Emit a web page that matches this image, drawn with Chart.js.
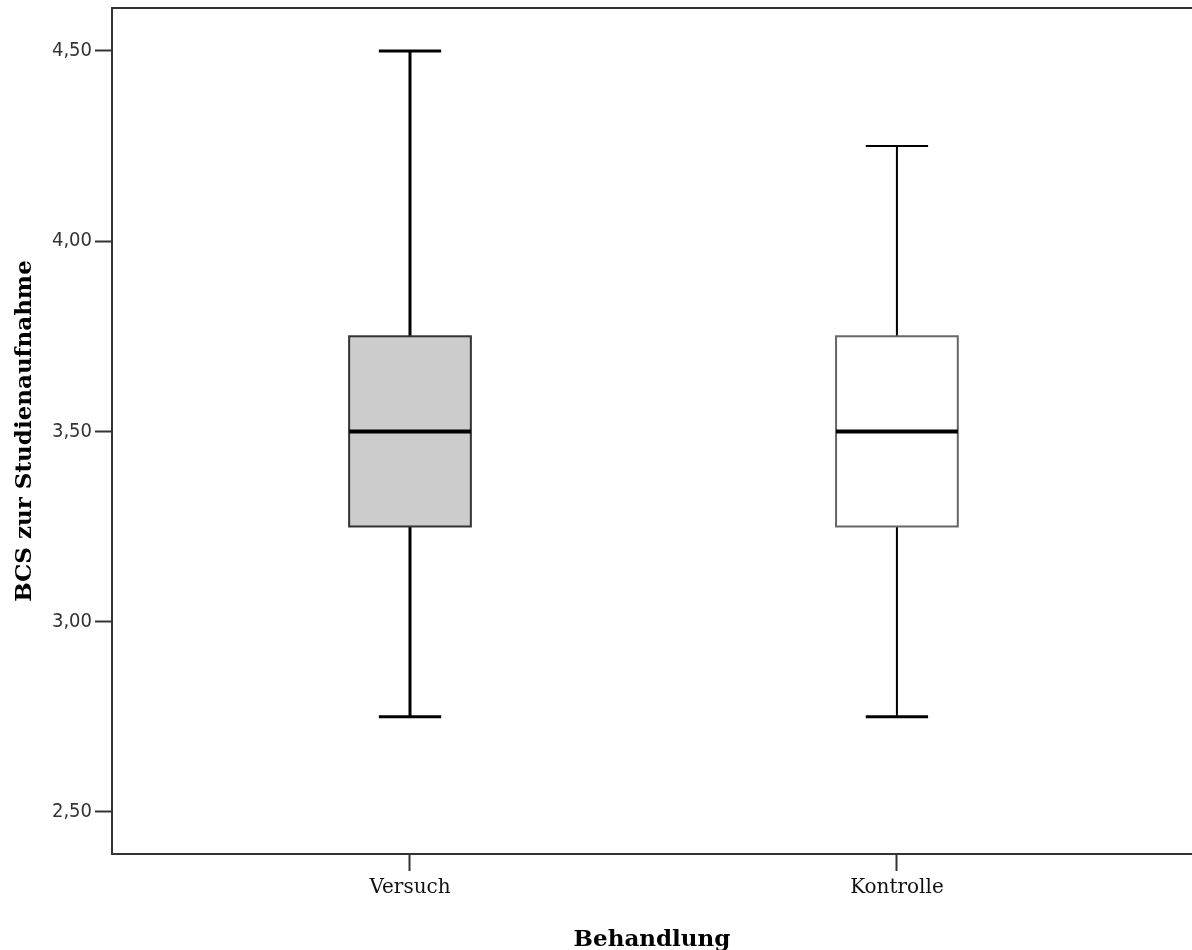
<!DOCTYPE html>
<html>
<head>
<meta charset="utf-8">
<title>BCS zur Studienaufnahme</title>
<script src="https://cdn.jsdelivr.net/npm/chart.js@4/dist/chart.umd.min.js"></script>
<style>
  html, body { margin: 0; padding: 0; background: #fff; }
  #wrap { width: 1192px; height: 950px; }
</style>
</head>
<body>
<div id="wrap"><canvas id="box-chart" width="1192" height="950"></canvas></div>
<script>
// Boxplot-Werte
const categories = ['Versuch', 'Kontrolle'];
const minValues = [2.75, 2.75];
const q1Values = [3.25, 3.25];
const medianValues = [3.50, 3.50];
const q3Values = [3.75, 3.75];
const maxValues = [4.50, 4.25];
const yTicks = [2.5, 3.0, 3.5, 4.0, 4.5];

// Aussehen je Gruppe
const boxFill = ['#cccccc', '#ffffff'];
const boxBorder = ['#333333', '#666666'];
const whiskerWidth = [3, 2];
const topCapWidth = [3, 2];

const serif = "'DejaVu Serif', 'Liberation Serif', serif";
const sans = "'DejaVu Sans Condensed', 'DejaVu Sans', sans-serif";

// Zeichnet die Boxen über die Skalen von Chart.js
const boxplotPlugin = {
    id: 'boxplot',
    afterDatasetsDraw(chart) {
        const ctx = chart.ctx;
        const xs = chart.scales.x;
        const ys = chart.scales.y;
        const area = chart.chartArea;

        // oberer Rahmen
        ctx.save();
        ctx.strokeStyle = '#333';
        ctx.lineWidth = 2;
        ctx.beginPath();
        ctx.moveTo(area.left - 1, area.top);
        ctx.lineTo(area.right, area.top);
        ctx.stroke();

        categories.forEach((cat, i) => {
            const cx = xs.getPixelForValue(i);
            const bl = xs.getPixelForValue(i - 0.125);
            const br = xs.getPixelForValue(i + 0.125);
            const cl = xs.getPixelForValue(i - 0.064);
            const cr = xs.getPixelForValue(i + 0.064);
            const yMin = ys.getPixelForValue(minValues[i]);
            const yQ1 = ys.getPixelForValue(q1Values[i]);
            const yMed = ys.getPixelForValue(medianValues[i]);
            const yQ3 = ys.getPixelForValue(q3Values[i]);
            const yMax = ys.getPixelForValue(maxValues[i]);

            // Whisker
            ctx.strokeStyle = '#000';
            ctx.lineWidth = whiskerWidth[i];
            ctx.beginPath();
            ctx.moveTo(cx, yMax);
            ctx.lineTo(cx, yQ3);
            ctx.moveTo(cx, yQ1);
            ctx.lineTo(cx, yMin);
            ctx.stroke();

            // Querstriche
            ctx.lineWidth = topCapWidth[i];
            ctx.beginPath();
            ctx.moveTo(cl, yMax);
            ctx.lineTo(cr, yMax);
            ctx.stroke();
            ctx.lineWidth = 3;
            ctx.beginPath();
            ctx.moveTo(cl, yMin);
            ctx.lineTo(cr, yMin);
            ctx.stroke();

            // Box
            ctx.fillStyle = boxFill[i];
            ctx.fillRect(bl, yQ3, br - bl, yQ1 - yQ3);
            ctx.strokeStyle = boxBorder[i];
            ctx.lineWidth = 2;
            ctx.strokeRect(bl, yQ3, br - bl, yQ1 - yQ3);

            // Median
            ctx.strokeStyle = '#000';
            ctx.lineWidth = 4;
            ctx.beginPath();
            ctx.moveTo(bl, yMed);
            ctx.lineTo(br, yMed);
            ctx.stroke();
        });
        ctx.restore();
    }
};

const chart = new Chart(document.getElementById('box-chart'), {
    type: 'scatter',
    data: {
        datasets: [{
            data: medianValues.map((v, i) => ({ x: i, y: v })),
            pointRadius: 0,
            showLine: false
        }]
    },
    options: {
        responsive: false,
        animation: false,
        layout: { padding: { top: 8, right: 0, left: 0, bottom: 0 } },
        plugins: {
            legend: { display: false },
            tooltip: { enabled: false }
        },
        scales: {
            x: {
                type: 'linear',
                min: -0.612,
                max: 1.606,
                afterBuildTicks: (scale) => {
                    scale.ticks = categories.map((c, i) => ({ value: i }));
                },
                afterFit: (scale) => {
                    scale.height = 96;
                    scale.paddingLeft = 0;
                    scale.paddingRight = 0;
                },
                border: { color: '#333', width: 2 },
                grid: {
                    drawOnChartArea: false,
                    tickLength: 17,
                    tickColor: '#333',
                    tickWidth: 2
                },
                ticks: {
                    color: '#111',
                    padding: 5,
                    font: { family: serif, size: 20 },
                    callback: (value) => categories[value]
                },
                title: {
                    display: true,
                    text: 'Behandlung',
                    color: '#000',
                    padding: { top: 0, bottom: -4 },
                    font: { family: serif, size: 23, weight: 'bold' }
                }
            },
            y: {
                min: 2.389,
                max: 4.613,
                afterBuildTicks: (scale) => {
                    scale.ticks = yTicks.map(v => ({ value: v }));
                },
                afterFit: (scale) => {
                    scale.width = 112;
                    scale.paddingTop = 0;
                    scale.paddingBottom = 0;
                },
                border: { color: '#333', width: 2 },
                grid: {
                    drawOnChartArea: false,
                    tickLength: 17,
                    tickColor: '#333',
                    tickWidth: 2
                },
                ticks: {
                    color: '#333',
                    padding: 3,
                    font: { family: sans, size: 20 },
                    callback: (value) => value.toFixed(2).replace('.', ',')
                },
                title: {
                    display: true,
                    text: 'BCS zur Studienaufnahme',
                    color: '#000',
                    padding: { top: 11, bottom: 0 },
                    font: { family: serif, size: 23, weight: 'bold' }
                }
            }
        }
    },
    plugins: [boxplotPlugin]
});
</script>
</body>
</html>
